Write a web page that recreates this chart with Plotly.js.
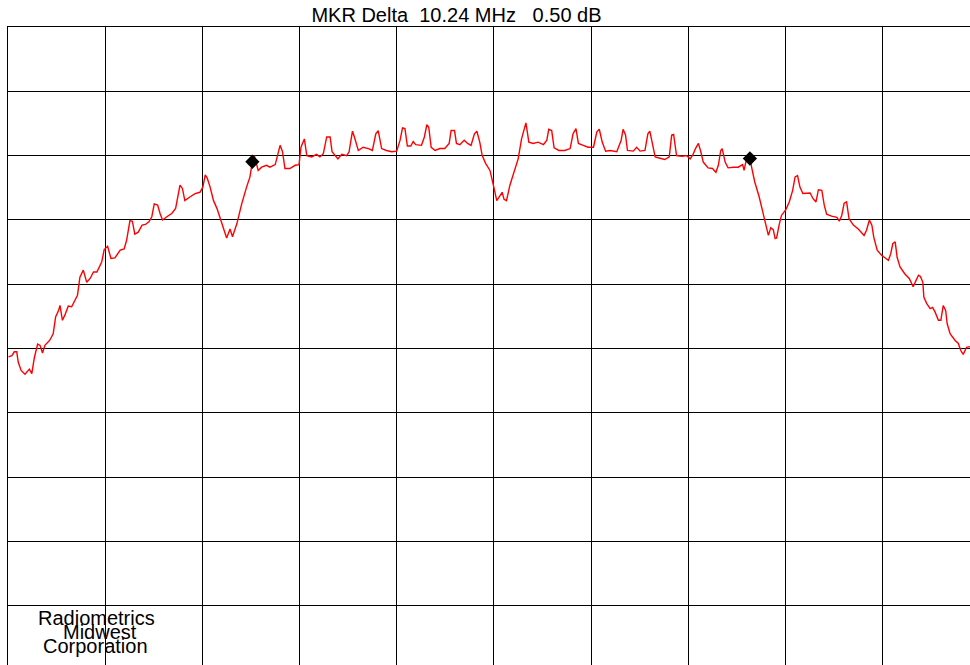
<!DOCTYPE html>
<html>
<head>
<meta charset="utf-8">
<script src="https://cdn.plot.ly/plotly-3.0.1.min.js"></script>
<style>
html,body{margin:0;padding:0;overflow:hidden;background:#fff;}
#chart{width:970px;height:665px;}
</style>
</head>
<body>
<div id="chart"></div>
<script>
// Frequency offset from centre (MHz), 2 MHz/div
const freqMHz = [
-9.99,-9.92,-9.87,-9.82,-9.79,-9.73,-9.65,-9.59,-9.56,-9.51,
-9.46,-9.39,-9.34,-9.29,-9.24,-9.14,-9.07,-9.02,-8.96,-8.93,
-8.88,-8.83,-8.76,-8.69,-8.62,-8.57,-8.52,-8.45,-8.38,-8.31,
-8.24,-8.17,-8.07,-8.02,-7.95,-7.88,-7.80,-7.69,-7.61,-7.56,
-7.49,-7.44,-7.39,-7.32,-7.24,-7.17,-7.10,-7.04,-6.99,-6.92,
-6.87,-6.82,-6.73,-6.63,-6.55,-6.49,-6.46,-6.41,-6.36,-6.25,
-6.15,-6.05,-5.99,-5.94,-5.90,-5.84,-5.77,-5.70,-5.64,-5.57,
-5.50,-5.43,-5.38,-5.29,-5.19,-5.09,-5.02,-4.97,-4.93,-4.85,
-4.78,-4.68,-4.61,-4.50,-4.45,-4.40,-4.35,-4.30,-4.20,-4.09,
-4.01,-3.97,-3.90,-3.85,-3.75,-3.65,-3.58,-3.51,-3.44,-3.37,
-3.33,-3.21,-3.13,-3.03,-2.98,-2.91,-2.87,-2.79,-2.69,-2.58,
-2.50,-2.43,-2.38,-2.31,-2.21,-2.10,-2.00,-1.93,-1.88,-1.83,
-1.78,-1.71,-1.66,-1.61,-1.49,-1.43,-1.38,-1.34,-1.29,-1.21,
-1.11,-1.01,-0.92,-0.88,-0.81,-0.77,-0.70,-0.61,-0.54,-0.47,
-0.40,-0.35,-0.29,-0.24,-0.17,-0.08,-0.01,0.06,0.13,0.17,
0.21,0.26,0.33,0.40,0.50,0.57,0.63,0.66,0.72,0.81,
0.91,1.02,1.09,1.13,1.19,1.24,1.34,1.46,1.57,1.63,
1.69,1.74,1.84,1.94,2.05,2.12,2.17,2.23,2.30,2.39,
2.53,2.62,2.66,2.71,2.75,2.87,2.94,3.01,3.11,3.17,
3.21,3.26,3.32,3.42,3.52,3.61,3.66,3.70,3.76,3.87,
3.97,4.04,4.10,4.15,4.21,4.26,4.31,4.41,4.50,4.57,
4.62,4.67,4.70,4.76,4.82,4.93,5.03,5.12,5.15,5.20,
5.27,5.31,5.37,5.46,5.55,5.62,5.65,5.70,5.75,5.79,
5.82,5.87,5.92,6.01,6.08,6.15,6.20,6.25,6.30,6.36,
6.44,6.51,6.57,6.63,6.68,6.75,6.80,6.85,6.95,7.06,
7.11,7.16,7.21,7.26,7.31,7.40,7.50,7.62,7.67,7.73,
7.78,7.82,7.89,7.98,8.07,8.12,8.17,8.21,8.26,8.30,
8.36,8.46,8.55,8.63,8.69,8.74,8.78,8.83,8.85,8.91,
8.98,9.03,9.08,9.15,9.20,9.25,9.30,9.33,9.39,9.49,
9.56,9.61,9.66,9.70,9.73,9.80,10.0
];
// Level relative to top graticule (dB), 10 dB/div
const levelDb = [
-51.3,-51.1,-50.5,-50.5,-52.1,-53.4,-54.0,-53.4,-53.2,-53.9,
-51.5,-49.3,-49.5,-50.7,-49.5,-48.7,-47.7,-45.1,-44.1,-43.3,
-45.6,-44.8,-43.4,-43.5,-42.5,-41.7,-38.9,-37.8,-39.7,-39.1,
-38.1,-38.1,-36.5,-34.6,-34.1,-36.0,-35.9,-34.7,-34.5,-33.2,
-30.1,-30.2,-32.2,-31.9,-30.8,-30.7,-30.3,-29.5,-27.5,-27.7,
-29.0,-30.0,-29.5,-29.0,-28.2,-25.9,-24.6,-25.1,-27.0,-26.4,
-25.9,-25.7,-24.9,-23.0,-23.5,-24.9,-27.0,-28.2,-29.5,-31.1,
-32.8,-31.4,-32.6,-30.6,-27.5,-24.9,-23.3,-20.95,-20.0,-22.3,
-21.8,-21.5,-21.8,-21.4,-20.0,-18.4,-19.4,-22.0,-22.0,-21.5,
-21.4,-18.7,-17.4,-20.0,-20.2,-19.8,-20.2,-19.7,-17.1,-17.1,
-19.4,-20.5,-19.8,-20.0,-19.4,-16.2,-17.1,-19.2,-18.7,-18.9,
-19.2,-16.6,-16.1,-18.9,-19.2,-19.4,-19.3,-17.6,-15.7,-15.8,
-18.5,-18.5,-17.8,-18.3,-18.4,-17.1,-15.2,-15.6,-18.7,-19.2,
-18.9,-18.9,-18.1,-16.1,-16.1,-18.1,-18.3,-17.6,-18.1,-18.4,
-16.6,-16.2,-17.9,-20.0,-21.2,-22.3,-24.6,-27.0,-26.2,-25.7,
-26.8,-27.0,-24.6,-22.8,-20.5,-17.4,-15.8,-14.9,-17.9,-18.1,
-17.9,-18.3,-17.6,-15.9,-16.1,-18.8,-19.2,-19.2,-18.9,-16.6,
-15.8,-18.1,-18.4,-18.7,-18.7,-16.3,-15.9,-17.9,-19.3,-19.2,
-19.4,-17.6,-15.9,-16.8,-19.2,-19.3,-18.7,-19.3,-19.2,-16.6,
-16.2,-18.1,-20.2,-20.4,-20.6,-20.2,-16.8,-16.7,-20.0,-20.1,
-20.0,-20.5,-19.8,-18.9,-18.1,-19.4,-21.0,-21.9,-22.0,-22.6,
-21.5,-19.2,-18.9,-21.0,-21.9,-21.8,-21.8,-21.4,-22.3,-20.5,
-20.45,-22.0,-24.1,-26.4,-29.1,-31.5,-32.4,-31.2,-31.5,-32.9,
-32.8,-30.8,-29.3,-28.4,-27.2,-25.4,-23.3,-23.1,-24.9,-25.9,
-25.8,-25.8,-26.7,-27.2,-25.3,-25.4,-27.7,-29.1,-29.4,-29.6,
-30.2,-29.3,-27.4,-27.2,-29.8,-30.8,-31.4,-32.4,-31.6,-30.0,
-30.8,-32.7,-34.7,-35.5,-36.0,-36.3,-35.2,-33.7,-33.4,-35.8,
-37.3,-38.4,-39.1,-40.4,-39.4,-38.6,-38.8,-39.7,-42.0,-43.0,
-43.8,-43.6,-44.3,-45.6,-45.6,-43.3,-44.1,-46.1,-47.7,-48.7,
-49.2,-50.3,-50.9,-50.3,-49.8,-49.7,-49.8
];
// Delta markers
const markerFreq = [-4.97, 5.27];
const markerLevel = [-20.95, -20.45];
const titleText = 'MKR Delta\u00a0 10.24 MHz\u00a0\u00a0 0.50 dB';
const logoLines = ['Radiometrics', 'Midwest', 'Corporation'];

const FONT = 'Liberation Sans, Arial, Helvetica, sans-serif';

const traces = [
  {x: freqMHz, y: levelDb, type: 'scatter', mode: 'lines',
   line: {color: '#ff0000', width: 1.4}, hoverinfo: 'skip'},
  {x: markerFreq, y: markerLevel, type: 'scatter', mode: 'markers',
   marker: {symbol: 'diamond', size: 11, color: '#000000'}, hoverinfo: 'skip'}
];

const logoX = [0.0922, 0.0953, 0.0906];
const logoY = [0.0740, 0.0525, 0.0290];
const annotations = logoLines.map((t, i) => ({
  text: t, xref: 'paper', yref: 'paper', x: logoX[i], y: logoY[i],
  xanchor: 'center', yanchor: 'middle', showarrow: false,
  font: {family: FONT, size: 20, color: '#000'}
}));

const layout = {
  width: 970, height: 665,
  margin: {l: 8, r: 0, t: 27, b: 0, pad: 0},
  paper_bgcolor: '#ffffff', plot_bgcolor: '#ffffff',
  showlegend: false,
  title: {text: titleText, xref: 'container', yref: 'container',
          x: 0.4706, y: 0.978, xanchor: 'center', yanchor: 'middle',
          font: {family: FONT, size: 20, color: '#000'}},
  xaxis: {range: [-10, 9.80], dtick: 2, tick0: -10, showgrid: true,
          gridcolor: '#000', gridwidth: 1, zeroline: false,
          showticklabels: false, ticks: '', side: 'top',
          showline: true, linecolor: '#000', linewidth: 1, fixedrange: true},
  yaxis: {range: [-99.2, 0], dtick: 10, tick0: 0, showgrid: true,
          gridcolor: '#000', gridwidth: 1, zeroline: false,
          showticklabels: false, ticks: '',
          showline: true, linecolor: '#000', linewidth: 1, fixedrange: true},
  annotations: annotations
};

Plotly.newPlot('chart', traces, layout, {staticPlot: true, displayModeBar: false});
</script>
</body>
</html>
